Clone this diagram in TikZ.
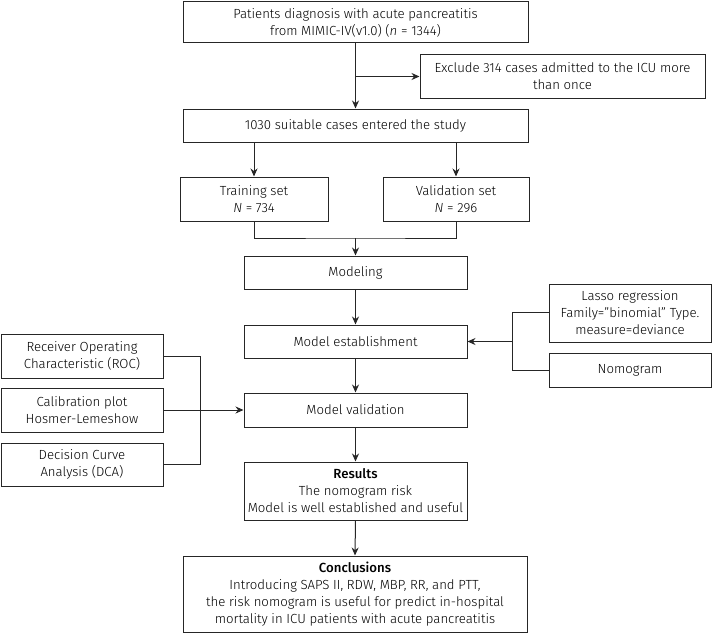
\documentclass[tikz,border=0pt]{standalone}
\usepackage{fontspec}
\setmainfont{Fira Sans}[UprightFont=* Light, BoldFont=* Medium, ItalicFont=* Light Italic]
\usetikzlibrary{arrows.meta}
\begin{document}
\begin{tikzpicture}[x=1pt,y=-1pt,
  box/.style={draw=black!85, line width=1pt, align=center, inner sep=2pt,
    font=\fontsize{13.2}{17}\selectfont},
  conn/.style={draw=black!85, line width=1pt},
  arr/.style={conn, -{Stealth[length=8pt,width=7pt]}}]
\useasboundingbox (0,0) rectangle (712,634);
\node[box, minimum width=345, minimum height=41] (top) at (355.5,22.5) {Patients diagnosis with acute pancreatitis\\from MIMIC-IV(v1.0) (\textit{n} = 1344)};
\node[box, minimum width=285, minimum height=43] (excl) at (562.5,76.5) {Exclude 314 cases admitted to the ICU more\\than once};
\node[box, minimum width=345, minimum height=33] (suit) at (355.5,125.5) {1030 suitable cases entered the study};
\node[box, minimum width=148, minimum height=44] (train) at (254,199) {Training set\\\textit{N} = 734};
\node[box, minimum width=146, minimum height=44] (valid) at (456,199) {Validation set\\\textit{N} = 296};
\node[box, minimum width=223, minimum height=33] (model) at (355.5,272.5) {Modeling};
\node[box, minimum width=223, minimum height=33] (estab) at (355.5,341.5) {Model establishment};
\node[box, minimum width=223, minimum height=34] (mval) at (355.5,410) {Model validation};
\node[box, minimum width=223, minimum height=58] (res) at (355.5,491) {\textbf{Results}\\The nomogram risk\\Model is well established and useful};
\node[box, minimum width=344, minimum height=76] (concl) at (355,594) {\textbf{Conclusions}\\Introducing SAPS II, RDW, MBP, RR, and PTT,\\the risk nomogram is useful for predict in-hospital\\mortality in ICU patients with acute pancreatitis};
\node[box, minimum width=162, minimum height=44] (roc) at (82,356) {Receiver Operating\\Characteristic (ROC)};
\node[box, minimum width=162, minimum height=44] (cal) at (82,410) {Calibration plot\\Hosmer-Lemeshow};
\node[box, minimum width=162, minimum height=43] (dca) at (82,464.5) {Decision Curve\\Analysis (DCA)};
\node[box, minimum width=162, minimum height=58] (lasso) at (630,313) {Lasso regression\\Family=”binomial” Type.\\measure=deviance};
\node[box, minimum width=162, minimum height=34] (nomo) at (630,370) {Nomogram};
% connectors
\coordinate (b1) at (top.south |- excl.west);
\draw[arr] (top.south) -- (suit.north);
\draw[arr] (b1) -- (excl.west);
\draw[arr] (suit.south -| train.north) -- (train.north);
\draw[arr] (suit.south -| valid.north) -- (valid.north);
\coordinate (m1) at (355.5,238);
\draw[conn] (train.south) |- (m1) -| (valid.south);
\draw[arr] (m1) -- (model.north);
\draw[arr] (model.south) -- (estab.north);
\draw[arr] (estab.south) -- (mval.north);
\draw[arr] (mval.south) -- (res.north);
\draw[arr] (res.south) -- (concl.north);
\coordinate (l1) at (200,356);
\draw[conn] (roc.east) -- (l1) |- (dca.east);
\draw[arr] (cal.east) -- (mval.west);
\coordinate (r1) at (512,312);
\draw[conn] (lasso.west |- r1) -- (r1) |- (nomo.west);
\draw[arr] (r1 |- estab.east) -- (estab.east);
\end{tikzpicture}
\end{document}
